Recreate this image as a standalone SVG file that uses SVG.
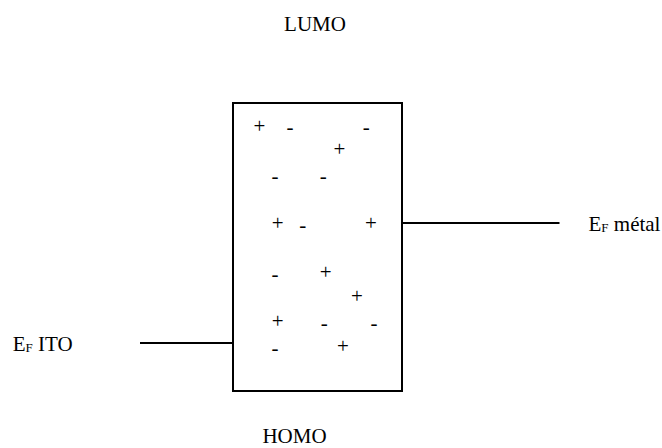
<svg xmlns="http://www.w3.org/2000/svg" width="662" height="448" viewBox="0 0 662 448">
<style>
text { font-family: "Liberation Serif", "Times New Roman", "DejaVu Serif", serif; font-size: 21px; fill: #000; }
.c { text-anchor: middle; }
.sub { font-size: 13px; }
.ln { stroke: #000; stroke-width: 2; fill: none; }
</style>
<rect width="662" height="448" fill="#fff"/>
<g id="lumo"><text class="c" x="315" y="31">LUMO</text></g>
<g id="homo"><text class="c" x="294.5" y="443">HOMO</text></g>
<g id="ef-ito"><text x="12.7" y="351">E<tspan class="sub" dy="1">F</tspan><tspan dy="-1"> ITO</tspan></text></g>
<g id="ef-metal"><text x="588.5" y="231">E<tspan class="sub" dy="1">F</tspan><tspan dy="-1"> métal</tspan></text></g>
<g id="connectors">
<line class="ln" x1="140" y1="343" x2="233" y2="343"/>
<line class="ln" x1="402" y1="223" x2="559.5" y2="223"/>
</g>
<g id="organic-layer">
<rect class="ln" x="233" y="103" width="169" height="288"/>
<g id="charges">
<text class="c" x="259.3" y="132.5">+</text>
<text class="c" x="290" y="133.5">-</text>
<text class="c" x="366.3" y="133.5">-</text>
<text class="c" x="339.3" y="156">+</text>
<text class="c" x="275" y="182.5">-</text>
<text class="c" x="323.3" y="182.5">-</text>
<text class="c" x="277.7" y="230">+</text>
<text class="c" x="302.7" y="231.7">-</text>
<text class="c" x="371" y="230">+</text>
<text class="c" x="275" y="280.7">-</text>
<text class="c" x="325.7" y="279">+</text>
<text class="c" x="357" y="302.7">+</text>
<text class="c" x="277.7" y="328">+</text>
<text class="c" x="324.3" y="329.7">-</text>
<text class="c" x="374" y="329.7">-</text>
<text class="c" x="275" y="354.7">-</text>
<text class="c" x="343" y="353.3">+</text>
</g>
</g>
</svg>
